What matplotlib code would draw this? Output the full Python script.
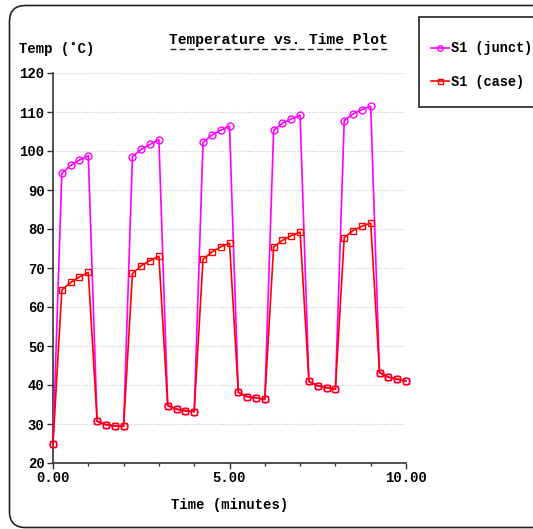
import matplotlib
matplotlib.use("Agg")
import matplotlib.pyplot as plt
from matplotlib.lines import Line2D
from matplotlib.patches import FancyBboxPatch, Rectangle
from matplotlib.ticker import MultipleLocator, FormatStrFormatter

# Temperature vs. Time data
time_min = [0.0, 0.25, 0.5, 0.75, 1.0, 1.25, 1.5, 1.75, 2.0,
            2.25, 2.5, 2.75, 3.0, 3.25, 3.5, 3.75, 4.0,
            4.25, 4.5, 4.75, 5.0, 5.25, 5.5, 5.75, 6.0,
            6.25, 6.5, 6.75, 7.0, 7.25, 7.5, 7.75, 8.0,
            8.25, 8.5, 8.75, 9.0, 9.25, 9.5, 9.75, 10.0]

s1_junct = [25.0, 94.3, 96.3, 97.7, 98.8, 30.7, 29.8, 29.5, 29.4,
            98.5, 100.4, 101.7, 102.9, 34.7, 33.8, 33.4, 33.2,
            102.2, 104.1, 105.3, 106.4, 38.1, 37.0, 36.7, 36.3,
            105.3, 107.1, 108.2, 109.2, 40.9, 39.8, 39.3, 38.9,
            107.8, 109.5, 110.6, 111.5, 43.2, 42.0, 41.5, 41.0]

s1_case = [25.0, 64.3, 66.3, 67.7, 68.9, 30.7, 29.8, 29.5, 29.4,
           68.6, 70.6, 71.9, 73.0, 34.7, 33.8, 33.4, 33.2,
           72.2, 74.1, 75.4, 76.4, 38.1, 37.0, 36.7, 36.3,
           75.4, 77.1, 78.3, 79.2, 40.9, 39.8, 39.3, 38.9,
           77.8, 79.6, 80.7, 81.5, 43.2, 42.0, 41.5, 41.0]

series_labels = ["S1 (junct)", "S1 (case)"]
y_ticks = [20, 30, 40, 50, 60, 70, 80, 90, 100, 110, 120]
x_ticks = [0, 5, 10]

mono = ["Liberation Mono", "DejaVu Sans Mono"]
plt.rcParams['font.family'] = mono
plt.rcParams['font.weight'] = 'bold'

W, H = 533, 529
fig = plt.figure(figsize=(W / 100, H / 100), dpi=100)
fig.patch.set_facecolor('white')

# outer rounded frame (runs off the right edge like the original)
frame = FancyBboxPatch((9.5 / W, 1.5 / H), 540 / W, 522 / H,
                       boxstyle="round,pad=0,rounding_size=0.03",
                       transform=fig.transFigure, facecolor='none',
                       edgecolor='#222222', lw=1.2, mutation_aspect=W / H)
fig.patches.append(frame)

ax = fig.add_axes([53 / W, 66 / H, 353 / W, 390 / H])

l1, = ax.plot(time_min, s1_junct, color='#ff00ff', lw=1.2, marker='o',
              markersize=5, markerfacecolor='none', markeredgewidth=1,
              clip_on=False, zorder=3)
l2, = ax.plot(time_min, s1_case, color='#ff0000', lw=1.2, marker='s',
              markersize=4.5, markerfacecolor='none', markeredgewidth=1,
              clip_on=False, zorder=4)

ax.set_xlim(0, 10)
ax.set_ylim(20, 120)
ax.set_xticks(x_ticks)
ax.xaxis.set_minor_locator(MultipleLocator(1))
ax.xaxis.set_major_formatter(FormatStrFormatter('%.2f'))
ax.set_yticks(y_ticks)

ax.spines['top'].set_visible(False)
ax.spines['right'].set_visible(False)
for s in ['left', 'bottom']:
    ax.spines[s].set_color('#333333')
    ax.spines[s].set_linewidth(1.2)

ax.tick_params(axis='both', which='major', length=4, width=1, color='#333333',
               labelsize=10, pad=2)
ax.tick_params(axis='x', which='minor', length=2.5, width=1, color='#333333')
ax.tick_params(axis='x', which='major', pad=1.5)

ax.yaxis.grid(True, linestyle=(0, (1, 1.5)), color='#c8c8c8', lw=0.8)
ax.set_axisbelow(True)

# labels
ax.set_xlabel("Time (minutes)", fontsize=10, fontweight='bold')
ax.xaxis.set_label_coords(0.5, -(498 - 463) / 390)
fig.text(19 / W, 1 - 49 / H, "Temp (\u02daC)", fontsize=10,
         fontweight='bold', va='center', ha='left')

# title with dashed underline
fig.text(278.5 / W, 1 - 40 / H, "Temperature vs. Time Plot", fontsize=10.5,
         fontweight='bold', ha='center', va='center')
fig.lines.append(Line2D([170 / W, 388 / W], [1 - 48.5 / H, 1 - 48.5 / H],
                        transform=fig.transFigure, color='#222222', lw=1,
                        linestyle=(0, (4.2, 2.4))))

# legend box
fig.patches.append(Rectangle((419 / W, 1 - 107 / H), 130 / W, 90 / H,
                             transform=fig.transFigure, facecolor='white',
                             edgecolor='#222222', lw=1.2))
leg = fig.legend([l1, l2], series_labels, loc='center left',
                 bbox_to_anchor=(424 / W, 1 - 65 / H), frameon=False,
                 fontsize=9.8, handlelength=1.35, handletextpad=0.1,
                 labelspacing=1.4, borderpad=0, markerscale=0.8)

fig.savefig("out.png", dpi=100)
